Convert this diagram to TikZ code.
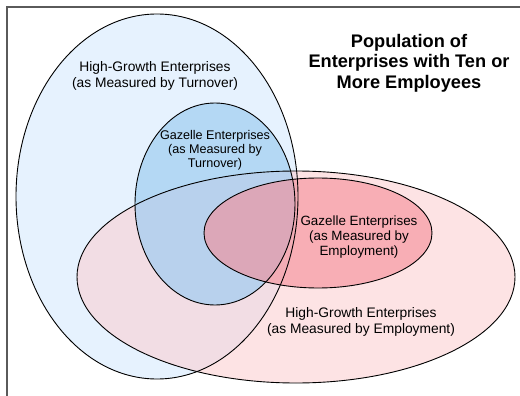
\documentclass[tikz,border=0pt]{standalone}
\usepackage{fontspec}
\setmainfont{Liberation Sans}
\definecolor{bigblue}{RGB}{230,242,254}
\definecolor{bigpink}{RGB}{252,205,207}
\definecolor{gazblue}{RGB}{160,205,241}
\definecolor{gazred}{RGB}{245,140,150}
\definecolor{framec}{RGB}{90,90,90}
\tikzset{
  setline/.style={draw=black,line width=0.9pt},
  lbl/.style={align=center,font=\fontsize{13.8}{16}\selectfont,inner sep=0pt},
  glbl/.style={align=center,font=\fontsize{12.6}{14}\selectfont,inner sep=0pt},
  elbl/.style={align=center,font=\fontsize{13.4}{15}\selectfont,inner sep=0pt},
  ttl/.style={align=center,font=\fontsize{18.2}{20.5}\selectfont\bfseries,inner sep=0pt}
}
\begin{document}
\begin{tikzpicture}[x=1pt,y=-1pt]
\useasboundingbox (0,0) rectangle (520,396);
\fill[white] (0,0) rectangle (520,396);
% fills
\fill[bigblue] (157,196.5) ellipse [x radius=141, y radius=182.5];
\fill[bigpink,fill opacity=0.55] (296,277) ellipse [x radius=219, y radius=106];
\fill[gazblue,fill opacity=0.7] (215,204) ellipse [x radius=80, y radius=101];
\fill[gazred,fill opacity=0.6] (318,233) ellipse [x radius=114, y radius=55];
% outlines
\draw[setline] (157,196.5) ellipse [x radius=141, y radius=182.5];
\draw[setline] (296,277) ellipse [x radius=219, y radius=106];
\draw[setline] (215,204) ellipse [x radius=80, y radius=101];
\draw[setline] (318,233) ellipse [x radius=114, y radius=55];
% frame
\coordinate (fr) at (520,7);
\coordinate (fc) at (7,7);
\coordinate (fb) at (7,396);
\draw[framec,line width=1.3pt] (fr) -- (fc) -- (fb);
% labels
\node[lbl] (hgt) at (155,76) {High-Growth Enterprises\\(as Measured by Turnover)};
\node[glbl] (gzt) at (215,150) {Gazelle Enterprises\\(as Measured by\\Turnover)};
\node[elbl] (gze) at (359,237) {Gazelle Enterprises\\(as Measured by\\Employment)};
\node[lbl] (hge) at (361,322) {High-Growth Enterprises\\(as Measured by Employment)};
\node[ttl] (title) at (409,63) {Population of\\Enterprises with Ten or\\More Employees};
\end{tikzpicture}
\end{document}
